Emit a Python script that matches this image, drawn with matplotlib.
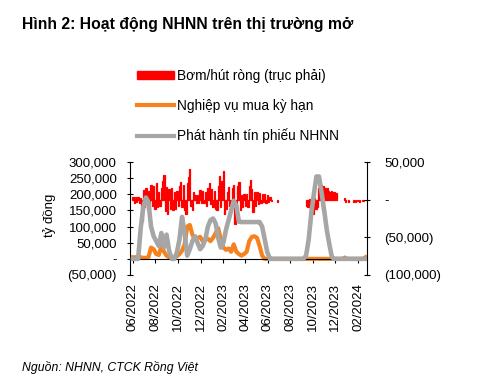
import matplotlib
matplotlib.use("Agg")
import matplotlib.pyplot as plt
import matplotlib.dates as mdates
from matplotlib.patches import Patch
from matplotlib.lines import Line2D
from matplotlib.ticker import FuncFormatter, MultipleLocator
import pandas as pd

plt.rcParams['font.family'] = ['Liberation Sans', 'DejaVu Sans']

# ---------------- data ----------------
title = "Hình 2: Hoạt động NHNN trên thị trường mở"
source = "Nguồn: NHNN, CTCK Rồng Việt"
y_label = "tỷ đồng"
legend_labels = ["Bơm/hút ròng (trục phải)", "Nghiệp vụ mua kỳ hạn", "Phát hành tín phiếu NHNN"]

# weekly series (left axis)
weekly_dates = pd.date_range("2022-06-01", periods=91, freq="7D")
bill_issuance = [
    0, 0, 0, 95000, 160000, 190000, 175000, 100000, 70000, 55000,
    40000, 80000, 35000, 75000, 25000, 0, 0, 20000, 60000, 130000,
    80000, 10000, 30000, 55000, 70000, 50000, 30000, 40000, 60000, 100000,
    120000, 125000, 110000, 65000, 35000, 50000, 90000, 120000, 150000, 180000,
    165000, 115000, 114000, 114000, 114000, 114000, 114000, 114000, 114000, 114000,
    100000, 60000, 20000, 0, 0, 0, 0, 0, 0, 0,
    0, 0, 0, 0, 0, 0, 0, 10000, 60000, 140000,
    200000, 255000, 255000, 205000, 150000, 90000, 45000, 5000, 0, 0,
    0, 0, 0, 0, 0, 0, 0, 0, 0, 0,
    0,
]
term_purchase = [
    5000, 5000, 5000, 5000, 3000, 3000, 5000, 35000, 30000, 15000,
    12000, 40000, 22000, 10000, 5000, 3000, 5000, 8000, 15000, 25000,
    45000, 100000, 105000, 75000, 60000, 65000, 68000, 55000, 60000, 62000,
    55000, 65000, 80000, 95000, 60000, 35000, 28000, 32000, 22000, 45000,
    22000, 15000, 10000, 15000, 22000, 55000, 68000, 70000, 65000, 40000,
    10000, 0, 0, 0, 0, 0, 0, 0, 0, 0,
    0, 0, 0, 0, 0, 0, 0, 0, 0, 0,
    0, 0, 0, 0, 0, 0, 0, 0, 0, 0,
    0, 0, 4000, 0, 0, 0, 0, 0, 0, 0,
    5000,
]

# net injection/withdrawal (right axis), twice-weekly observations
net_dates_1 = pd.date_range("2022-06-01", periods=108, freq="84h")
net_values_1 = [
    3000, -4000, 4000, -3000, 3000, -5000, 2000, -28000, 13000, -10000,
    15000, -14000, 12000, -12000, 20000, -8000, 18000, -12000, 22000, -10000,
    10000, -8000, 15000, 25000, 33000, -15000, 17000, -19000, 14000, -12000,
    16000, -14000, 10000, -12000, 12000, -8000, 18000, 24000, -10000, 20000,
    -14000, -19000, 22000, 30000, 41000, -8000, -14000, 10000, 6000, -5000,
    6000, -5000, 13000, -5000, 12000, -4000, 10000, -8000, 15000, 22000,
    -6000, 14000, -10000, 12000, -12000, -14000, 18000, 31000, -10000, 25000,
    38000, -19000, -12000, 10000, 17000, -8000, -10000, 15000, 20000, -32000,
    -18000, 18000, 24000, -14000, 6000, -10000, 8000, -8000, 8000, -10000,
    18000, 26000, 14000, -16000, 10000, -8000, 10000, -6000, 9000, -4000,
    8000, -3000, 8000, -4000, 6000, -3000, 3000, -2000,
]
net_dates_2 = pd.date_range("2023-09-15", periods=24, freq="84h")
net_values_2 = [
    -8000, -10000, 1000, -18000, -15000, -19000, 2000, -12000, -10000, 15000,
    17000, 19000, -12000, 18000, 15000, 13000, 16000, 12000, 10000, 11000,
    9000, 10000, 8000, 9000,
]
net_dates_3 = pd.to_datetime(["2023-06-28", "2023-12-27", "2023-12-29", "2024-01-06",
                              "2024-01-20", "2024-01-25", "2024-01-31", "2024-02-05",
                              "2024-02-14"])
net_values_3 = [-2500, 2500, -2500, -2500, -2500, -2500, -2000, -2500, -1500]

x_start, x_end = "2022-05-24", "2024-02-25"

# ---------------- figure ----------------
fig = plt.figure(figsize=(4.99, 3.91), dpi=100)
W, H = 499, 391
ax = fig.add_axes([130 / W, 1 - 275 / H, (367 - 130) / W, (275 - 162) / H])
ax2 = ax.twinx()

red = "#FF0000"
orange = "#F5821F"
gray = "#A6A6A6"

for d, v in ((net_dates_1, net_values_1), (net_dates_2, net_values_2), (net_dates_3, net_values_3)):
    ax2.bar(d, v, width=3.5, color=red, edgecolor=red, linewidth=0.9, align="center")

ax.plot(weekly_dates, term_purchase, color=orange, lw=3.0, solid_joinstyle="round", zorder=2)
ax.plot(weekly_dates, bill_issuance, color=gray, lw=3.3, solid_joinstyle="round", zorder=3)

ax.set_zorder(ax2.get_zorder() + 1)
ax.patch.set_visible(False)

ax.set_xlim(pd.Timestamp(x_start), pd.Timestamp(x_end))
ax.set_ylim(-50000, 300000)
ax2.set_ylim(-100000, 50000)

def fmt(v, pos):
    if abs(v) < 1:
        return "-"
    s = f"{abs(v):,.0f}"
    return f"({s})" if v < 0 else s

ax.yaxis.set_major_locator(MultipleLocator(50000))
ax2.yaxis.set_major_locator(MultipleLocator(50000))
ax.yaxis.set_major_formatter(FuncFormatter(fmt))
ax2.yaxis.set_major_formatter(FuncFormatter(fmt))

ax.xaxis.set_major_locator(mdates.MonthLocator(bymonth=[2, 4, 6, 8, 10, 12]))
ax.xaxis.set_major_formatter(mdates.DateFormatter("%m/%Y"))

for s in ("top", "right"):
    ax.spines[s].set_visible(False)
for s in ("top", "left", "bottom"):
    ax2.spines[s].set_visible(False)
ax.spines["bottom"].set_position(("data", 0))
ax.spines["bottom"].set_linewidth(0.8)
ax.spines["left"].set_linewidth(0.8)
ax2.spines["right"].set_linewidth(0.8)

ax.tick_params(axis="x", direction="out", length=3, width=0.8, pad=14.5,
               labelsize=9.5, labelrotation=90, colors="black")
ax.tick_params(axis="y", direction="inout", length=5, width=0.8, pad=7, labelsize=9.5)
ax2.tick_params(axis="y", direction="inout", length=5, width=0.8, pad=10, labelsize=9.5)
for lbl in ax.get_xticklabels():
    lbl.set_va("top")

fig.text(50 / W, 1 - 215 / H, y_label, rotation=90, ha="center", va="center", fontsize=9.5)

fig.text(22 / W, 1 - 24 / H, title, ha="left", va="center", fontsize=11.3, fontweight="bold")
fig.text(22 / W, 1 - 367 / H, source, ha="left", va="center", fontsize=8.8, style="italic")

handles = [Patch(facecolor=red, edgecolor=red),
           Line2D([0], [0], color=orange, lw=3),
           Line2D([0], [0], color=gray, lw=3)]
fig.legend(handles, legend_labels, loc="upper left", bbox_to_anchor=(137 / W, 1 - 69 / H),
           frameon=False, fontsize=9.8, handlelength=2.7, handleheight=0.55,
           labelspacing=1.15, handletextpad=0.25, borderpad=0, borderaxespad=0)

fig.savefig("out.png", dpi=100)
